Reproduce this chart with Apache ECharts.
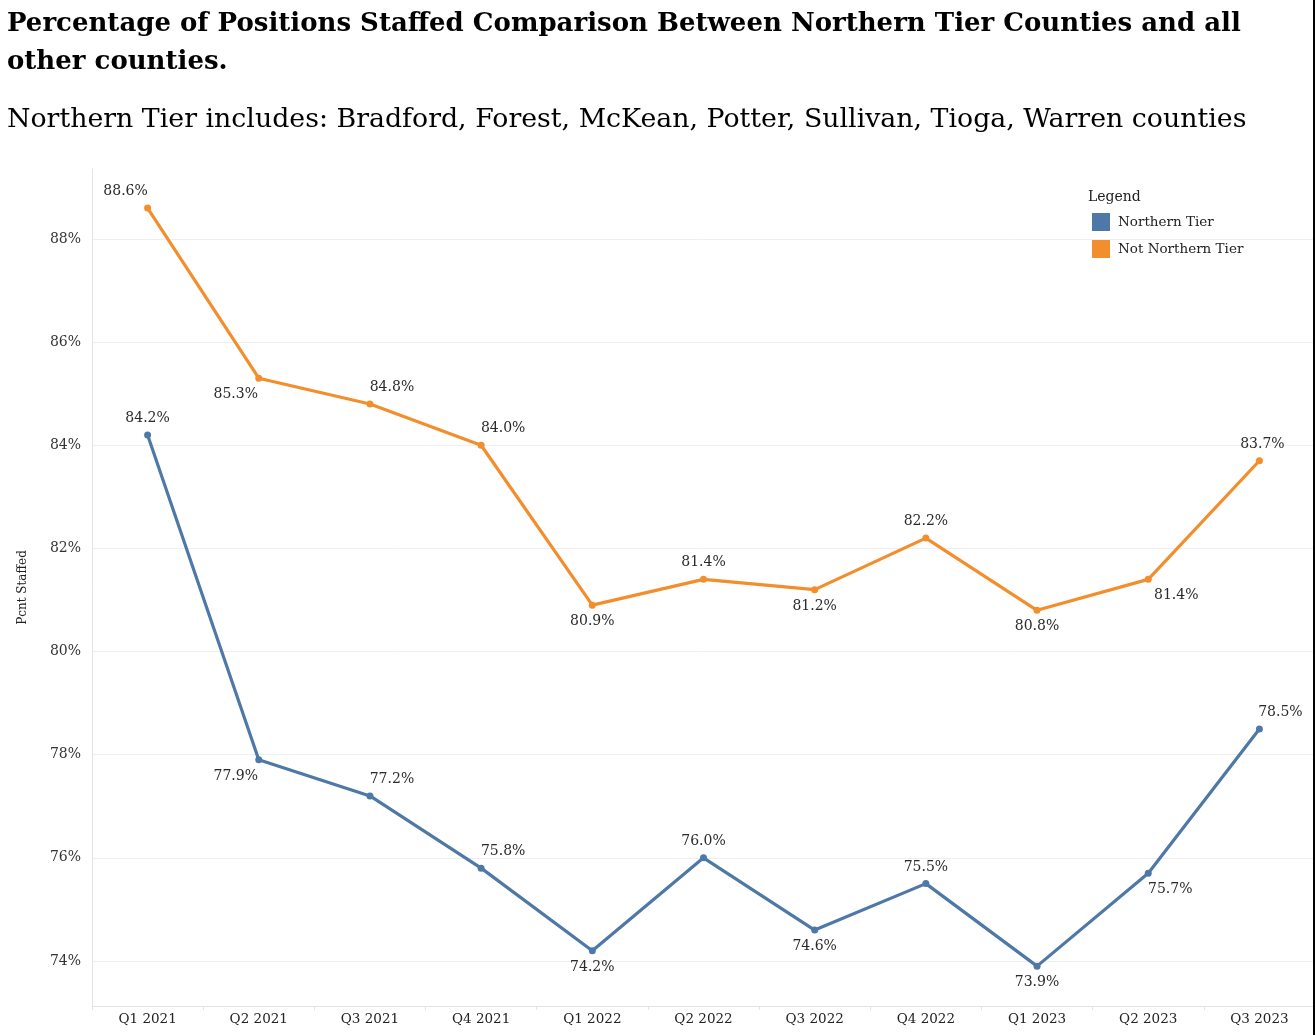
<!DOCTYPE html>
<html>
<head>
<meta charset="utf-8">
<script src="https://cdn.jsdelivr.net/npm/echarts@6/dist/echarts.min.js"></script>
<style>
  html, body { margin: 0; padding: 0; background: #fff; }
  #main { width: 1315px; height: 1035px; }
</style>
</head>
<body>
<div id="main"></div>
<script>
// 数据
var quarters = ['Q1 2021', 'Q2 2021', 'Q3 2021', 'Q4 2021', 'Q1 2022', 'Q2 2022', 'Q3 2022', 'Q4 2022', 'Q1 2023', 'Q2 2023', 'Q3 2023'];
var northernTier = [84.2, 77.9, 77.2, 75.8, 74.2, 76.0, 74.6, 75.5, 73.9, 75.7, 78.5];
var notNorthernTier = [88.6, 85.3, 84.8, 84.0, 80.9, 81.4, 81.2, 82.2, 80.8, 81.4, 83.7];
var yTicks = [74, 76, 78, 80, 82, 84, 86, 88];

// 标签位置（样式，不是数据）
var northLabelPos = ['top', 'bottom', 'top', 'top', 'bottom', 'top', 'bottom', 'top', 'bottom', 'bottom', 'top'];
var northLabelDx = [0, -23, 22, 22, 0, 0, 0, 0, 0, 22, 21];
var notNorthLabelPos = ['top', 'bottom', 'top', 'top', 'bottom', 'top', 'bottom', 'top', 'bottom', 'bottom', 'top'];
var notNorthLabelDx = [-22, -23, 22, 22, 0, 0, 0, 0, 0, 28, 3];

var serif = 'DejaVu Serif';
var blue = '#4e79a7';
var orange = '#f28e2b';

function buildData(values, pos, dx) {
    return values.map(function (v, i) {
        return {
            value: v,
            label: { position: pos[i], offset: [dx[i], 0] }
        };
    });
}

var chart = echarts.init(document.getElementById('main'));

var option = {
    animation: false,
    backgroundColor: '#fff',
    title: [
        {
            text: 'Percentage of Positions Staffed Comparison Between Northern Tier Counties and all\nother counties.',
            left: 7,
            top: 5,
            padding: 0,
            textStyle: { fontFamily: serif, fontWeight: 'bold', fontSize: 26, lineHeight: 38, color: '#000' }
        },
        {
            text: 'Northern Tier includes: Bradford, Forest, McKean, Potter, Sullivan, Tioga, Warren counties',
            left: 7,
            top: 107,
            padding: 0,
            textStyle: { fontFamily: serif, fontWeight: 'normal', fontSize: 26.8, color: '#000' }
        },
        {
            text: 'Legend',
            left: 1088,
            top: 190,
            padding: 0,
            textStyle: { fontFamily: serif, fontWeight: 'normal', fontSize: 14, color: '#222' }
        }
    ],
    legend: {
        orient: 'vertical',
        left: 1092,
        top: 213,
        padding: 0,
        itemWidth: 18,
        itemHeight: 18,
        itemGap: 9,
        icon: 'rect',
        textStyle: { fontFamily: serif, fontSize: 13.5, color: '#222', padding: [0, 0, 0, 3] },
        data: ['Northern Tier', 'Not Northern Tier']
    },
    grid: { left: 92, right: 0, top: 169, bottom: 29 },
    xAxis: {
        type: 'category',
        data: quarters,
        boundaryGap: true,
        axisLine: { lineStyle: { color: '#e3e3e3' } },
        axisTick: { show: true, length: 4, lineStyle: { color: '#e3e3e3' } },
        axisLabel: { margin: 6, fontFamily: serif, fontSize: 13.5, color: '#222' }
    },
    yAxis: {
        type: 'value',
        min: 73.127,
        max: 89.357,
        name: 'Pcnt Staffed',
        nameLocation: 'middle',
        nameGap: 63,
        nameRotate: 90,
        nameTextStyle: { fontFamily: serif, fontSize: 12, color: '#222' },
        axisLine: { show: true, lineStyle: { color: '#e3e3e3' } },
        axisTick: { show: false, customValues: yTicks },
        axisLabel: {
            customValues: yTicks,
            margin: 11,
            fontFamily: serif,
            fontSize: 14,
            color: '#333',
            formatter: function (v) { return Math.round(v) + '%'; }
        },
        splitLine: { show: true, lineStyle: { color: '#efefef' } }
    },
    series: [
        {
            name: 'Northern Tier',
            type: 'line',
            data: buildData(northernTier, northLabelPos, northLabelDx),
            color: blue,
            symbol: 'circle',
            symbolSize: 7,
            lineStyle: { width: 3.2 },
            label: {
                show: true,
                distance: 6,
                fontFamily: serif,
                fontSize: 14,
                color: '#2a2a2a',
                formatter: function (p) { return p.value.toFixed(1) + '%'; }
            }
        },
        {
            name: 'Not Northern Tier',
            type: 'line',
            data: buildData(notNorthernTier, notNorthLabelPos, notNorthLabelDx),
            color: orange,
            symbol: 'circle',
            symbolSize: 7,
            lineStyle: { width: 3.2 },
            label: {
                show: true,
                distance: 6,
                fontFamily: serif,
                fontSize: 14,
                color: '#2a2a2a',
                formatter: function (p) { return p.value.toFixed(1) + '%'; }
            }
        }
    ],
    graphic: [
        {
            type: 'rect',
            right: 0,
            top: 0,
            z: 100,
            shape: { width: 2, height: 1035 },
            style: { fill: '#000' }
        }
    ]
};

chart.setOption(option);
</script>
</body>
</html>
